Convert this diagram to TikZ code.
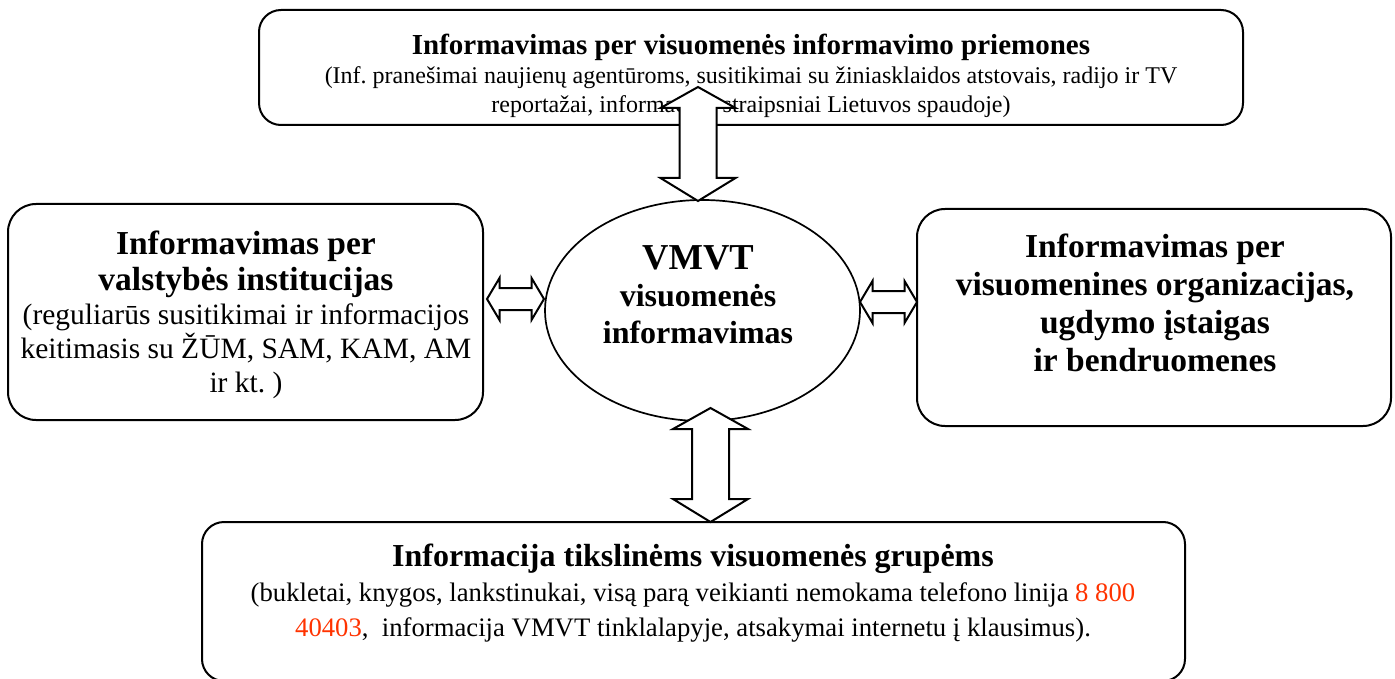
\documentclass[tikz,border=0pt]{standalone}
\usepackage{fontspec}
\setmainfont{Liberation Serif}
\usetikzlibrary{calc,shapes.geometric}
\definecolor{phonered}{RGB}{255,51,0}
\newcommand{\fsz}[2]{\fontsize{#1}{#2}\selectfont
  \spaceskip=\fontdimen2\font\relax\xspaceskip=\fontdimen2\font\relax
  \leftskip=0pt plus 1fil\rightskip=0pt plus 1fil\parfillskip=0pt\relax}
\tikzset{
  box/.style={draw=black, line width=2pt, rounded corners=22pt, fill=white, inner sep=0pt},
  sidebox/.style={box, rounded corners=28pt},
  hub/.style={draw=black, line width=1.7pt, ellipse, fill=white, inner sep=0pt},
  label/.style={align=center, inner sep=0pt},
  blockarrow/.style={draw=black, fill=white, line width=2pt, line join=miter},
}
\newcommand{\vdouble}[2]{%
  \path[blockarrow] let \p1=(#1), \p2=(#2) in
  (\x1,\y1) -- (\x1+37.5pt,\y1-21pt) -- (\x1+18.5pt,\y1-21pt) -- (\x1+18.5pt,\y2+23pt)
  -- (\x1+37.5pt,\y2+23pt) -- (\x1,\y2) -- (\x1-37.5pt,\y2+23pt) -- (\x1-18.5pt,\y2+23pt)
  -- (\x1-18.5pt,\y1-21pt) -- (\x1-37.5pt,\y1-21pt) -- cycle;}
\newcommand{\hdouble}[2]{%
  \path[blockarrow] let \p1=(#1), \p2=(#2) in
  (\x1,\y1) -- (\x1+12.5pt,\y1+21pt) -- (\x1+12.5pt,\y1+11pt) -- (\x2-12.5pt,\y1+11pt)
  -- (\x2-12.5pt,\y1+21pt) -- (\x2,\y1) -- (\x2-12.5pt,\y1-21pt) -- (\x2-12.5pt,\y1-11pt)
  -- (\x1+12.5pt,\y1-11pt) -- (\x1+12.5pt,\y1-21pt) -- cycle;}
\begin{document}
\begin{tikzpicture}[x=1pt,y=-1pt]
\clip (0,0) rectangle (1395,679);
\fill[white] (0,0) rectangle (1395,679);

% boxes
\node[box, minimum width=984pt, minimum height=115pt] (top) at (751,67.5) {};
\node[sidebox, minimum width=475pt, minimum height=216pt] (left) at (245.5,312) {};
\node[sidebox, minimum width=474pt, minimum height=217pt] (right) at (1154,317.5) {};
\node[box, minimum width=983pt, minimum height=159pt] (bottom) at (693.5,601.5) {};
\node[hub, minimum width=315pt, minimum height=221pt] (vmvt) at (702.5,310.5) {};

% texts
\node[label, text width=980pt] (toptxt) at (751,76) {%
  {\fsz{29}{30}\bfseries Informavimas per visuomenės informavimo priemones\par}
  {\fsz{24}{29}(Inf. pranešimai naujienų agentūroms, susitikimai su žiniasklaidos atstovais, radijo ir TV\\
  reportažai, informacijai straipsniai Lietuvos spaudoje)\par}};
\node[label, text width=470pt] (lefttxt) at (246,315) {%
  {\fsz{33.5}{36}\bfseries Informavimas per\\
  valstybės institucijas\par}
  {\fsz{29.5}{34}(reguliarūs susitikimai ir informacijos\\
  keitimasis su ŽŪM, SAM, KAM, AM\\
  ir kt. )\par}};
\node[label, text width=470pt] (righttxt) at (1155,303) {%
  {\fsz{33.5}{38}\bfseries Informavimas per\\
  visuomenines organizacijas,\\
  ugdymo įstaigas\\
  ir bendruomenes\par}};
\node[label, text width=300pt] (hubtxt) at (698,295) {%
  {\fsz{36.5}{36}\bfseries VMVT\par}
  {\fsz{32}{37}\bfseries visuomenės\\
  informavimas\par}};
\node[label, text width=980pt] (bottxt) at (693,593) {%
  {\fsz{32}{34}\bfseries Informacija tikslinėms visuomenės grupėms\par}
  {\fsz{26.7}{35}(bukletai, knygos, lankstinukai, visą parą veikianti nemokama telefono linija {\color{phonered}8 800}\\
  {\color{phonered}40403},\ \ informacija VMVT tinklalapyje, atsakymai internetu į klausimus).\par}};

% connector end points
\coordinate (ta) at (698,87);
\coordinate (tb) at (698,201);
\coordinate (ba) at (710.5,408);
\coordinate (bb) at (710.5,522);
\coordinate (la) at (487,299);
\coordinate (lb) at (544,299);
\coordinate (ra) at (860,302);
\coordinate (rb) at (917,302);

% block double arrows
\vdouble{ta}{tb}
\vdouble{ba}{bb}
\hdouble{la}{lb}
\hdouble{ra}{rb}
\end{tikzpicture}
\end{document}
